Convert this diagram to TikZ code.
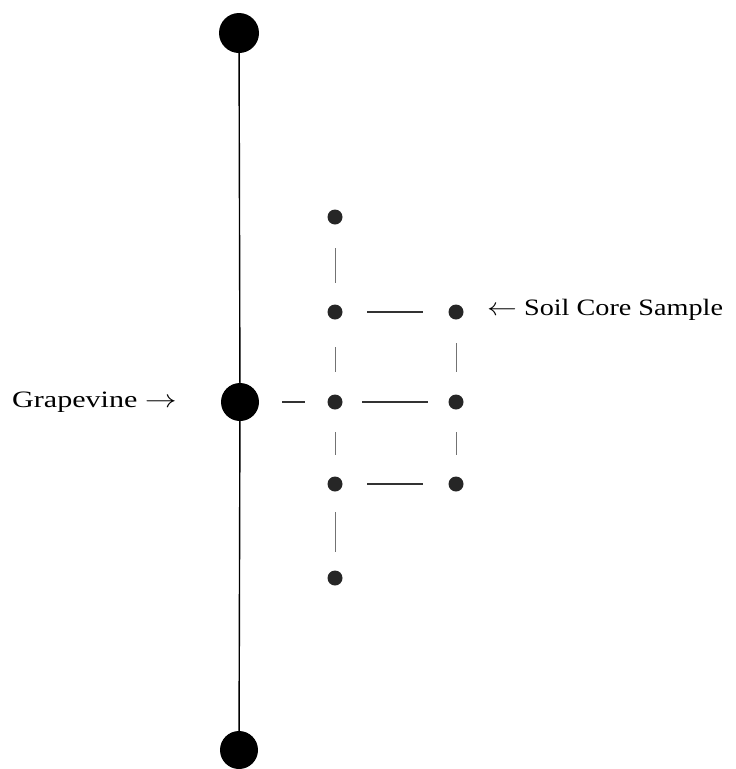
\documentclass[tikz,border=0pt]{standalone}
\usepackage{fontspec}
\setmainfont{Liberation Serif}
\begin{document}
\begin{tikzpicture}[x=1pt,y=-1pt,
  bigdot/.style={circle,fill=black,inner sep=0pt,minimum size=38pt},
  smalldot/.style={circle,fill=black!85,inner sep=0pt,minimum size=15pt},
  hline/.style={draw=black!80,line width=1.1pt},
  vline/.style={draw=black!55,line width=0.8pt},
  lbl/.style={font=\fontsize{23.5}{28}\selectfont,inner sep=0pt}]
\useasboundingbox (0,0) rectangle (736,769);
% grapevines
\node[bigdot,minimum size=40pt] (top) at (239,33) {};
\node[bigdot] (mid) at (240,402) {};
\node[bigdot] (bot) at (239,750) {};
\draw[line width=1.4pt] (top) -- (mid);
\draw[line width=1.4pt] (mid) -- (bot);
% soil cores
\node[smalldot] (c1) at (335,217) {};
\node[smalldot] (c2) at (335,312) {};
\node[smalldot] (c3) at (335,402) {};
\node[smalldot] (c4) at (335,484) {};
\node[smalldot] (c5) at (335,578) {};
\node[smalldot] (d2) at (456,312) {};
\node[smalldot] (d3) at (456,402) {};
\node[smalldot] (d4) at (456,484) {};
% horizontal connectors
\draw[hline,shorten <=42pt,shorten >=30pt] (mid.center) -- (c3.center);
\draw[hline,shorten <=32pt,shorten >=33pt] (c2.center) -- (d2.center);
\draw[hline,shorten <=27pt,shorten >=28pt] (c3.center) -- (d3.center);
\draw[hline,shorten <=32pt,shorten >=33pt] (c4.center) -- (d4.center);
% vertical connectors
\draw[vline,shorten <=31pt,shorten >=29pt] (c1.center) -- (c2.center);
\draw[vline,shorten <=35pt,shorten >=30pt] (c2.center) -- (c3.center);
\draw[vline,shorten <=30pt,shorten >=29pt] (c3.center) -- (c4.center);
\draw[vline,shorten <=28pt,shorten >=26pt] (c4.center) -- (c5.center);
\draw[vline,shorten <=31pt,shorten >=30pt] (d2.center) -- (d3.center);
\draw[vline,shorten <=30pt,shorten >=29pt] (d3.center) -- (d4.center);
% labels
\node[lbl,anchor=west] (gv) at (12,402) {\scalebox{1.28}[1]{Grapevine $\rightarrow$}};
\node[lbl,anchor=west] (sc) at (487,310) {\scalebox{1.2}[1]{$\leftarrow$ Soil Core Sample}};
\end{tikzpicture}
\end{document}
